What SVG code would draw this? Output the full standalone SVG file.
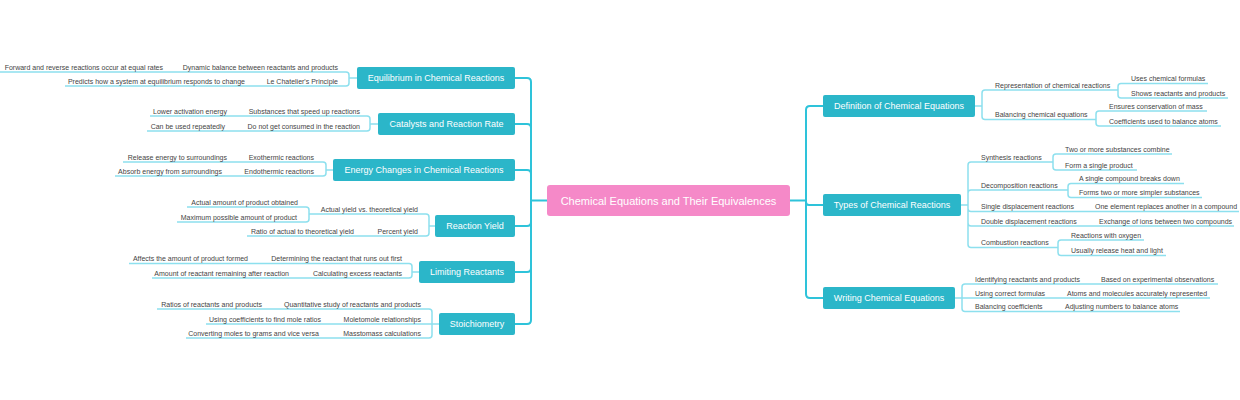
<svg xmlns="http://www.w3.org/2000/svg" width="1240" height="400" viewBox="0 0 1240 400">
<style>
.bg{fill:#ffffff}
.main{fill:none;stroke:#2ec3da;stroke-width:2}
.sub{fill:none;stroke:#8de0ee;stroke-width:1.5}
.box{fill:#2bb6c9}
.root{fill:#f589c8}
.bt{font-family:"Liberation Sans",Arial,sans-serif;font-size:9px;fill:#ffffff;text-anchor:middle}
.rt{font-family:"Liberation Sans",Arial,sans-serif;font-size:11px;fill:#ffffff;text-anchor:middle}
.l{font-family:"Liberation Sans",Arial,sans-serif;font-size:7px;fill:#444444;text-anchor:end}
.r{font-family:"Liberation Sans",Arial,sans-serif;font-size:7px;fill:#444444;text-anchor:start}
</style>
<rect class="bg" x="0" y="0" width="1240" height="400"/>
<g id="connectors">
<path class="main" d="M547,200.5 H531 M531,201 V82 Q531,78 527,78 H515 M531,201 V128 Q531,124 527,124 H515 M531,201 V174 Q531,170 527,170 H515 M531,200 V222 Q531,226 527,226 H515 M531,200 V268 Q531,272 527,272 H515 M531,200 V320 Q531,324 527,324 H515"/>
<path class="main" d="M790,200.5 H806 M806,201 V110 Q806,106 810,106 H823 M806,200 V202 Q806,205 809,205 H823 M806,200 V294 Q806,298 810,298 H823"/>
<path class="sub" d="M357,78 H349 M349,78 V75 Q349,72 346,72 H0 M349,78 V83 Q349,86 346,86 H65"/>
<path class="sub" d="M378,124 H370 M370,124 V119 Q370,116 367,116 H150 M370,124 V128 Q370,131 367,131 H147"/>
<path class="sub" d="M333,170 H326 M326,170 V165 Q326,162 323,162 H123 M326,170 V173 Q326,176 323,176 H115"/>
<path class="sub" d="M435,226 H429 M429,226 V217 Q429,214 426,214 H309 M429,226 V233 Q429,236 426,236 H247 M309,214 V210 Q309,207 306,207 H187 M309,214 V219 Q309,222 306,222 H177"/>
<path class="sub" d="M419,272 H412 M412,272 V266.5 Q412,263.5 409,263.5 H129 M412,272 V275 Q412,278 409,278 H152"/>
<path class="sub" d="M439,324 H432 M432,324 V312 Q432,309 429,309 H157 M432,324 H206 M432,324 V335 Q432,338 429,338 H186"/>
<path class="sub" d="M975,106 H982 M982,106 V93 Q982,90 985,90 H1118 M982,106 V116.5 Q982,119.5 985,119.5 H1096 M1118,90 V86.5 Q1118,83.5 1121,83.5 H1208 M1118,90 V95 Q1118,98 1121,98 H1228 M1096,119.5 V114 Q1096,111 1099,111 H1207 M1096,119.5 V123 Q1096,126 1099,126 H1221"/>
<path class="sub" d="M961,205 H968 M968,205 V165 Q968,162 971,162 H1053 M968,205 V193 Q968,190 971,190 H1068 M968,205 V208.5 Q968,211.5 971,211.5 H1239 M968,205 V223 Q968,226 971,226 H1234 M968,205 V244.5 Q968,247.5 971,247.5 H1058 M1053,162 V157 Q1053,154 1056,154 H1172 M1053,162 V167 Q1053,170 1056,170 H1137 M1068,190 V186.5 Q1068,183.5 1071,183.5 H1184 M1068,190 V194.5 Q1068,197.5 1071,197.5 H1202 M1058,247.5 V243 Q1058,240 1061,240 H1144 M1058,247.5 V252.5 Q1058,255.5 1061,255.5 H1166"/>
<path class="sub" d="M955,298 H962 M962,298 V287 Q962,284 965,284 H1218 M962,298 H1210 M962,298 V308.5 Q962,311.5 965,311.5 H1180"/>
</g>
<g id="root"><rect class="root" x="547" y="185" width="243" height="31" rx="3"/><text class="rt" x="668.5" y="204.5">Chemical Equations and Their Equivalences</text></g>
<g id="equilibrium"><rect class="box" x="357" y="67" width="158" height="22" rx="2"/><text class="bt" x="436" y="81.2">Equilibrium in Chemical Reactions</text></g>
<g id="eq-dynamic"><text class="l" x="338" y="69.5">Dynamic balance between reactants and products</text></g>
<g id="eq-forward"><text class="l" x="163" y="69.5">Forward and reverse reactions occur at equal rates</text></g>
<g id="eq-lechatelier"><text class="l" x="338" y="83.5">Le Chatelier's Principle</text></g>
<g id="eq-predicts"><text class="l" x="245" y="83.5">Predicts how a system at equilibrium responds to change</text></g>
<g id="catalysts"><rect class="box" x="378" y="113" width="137" height="22" rx="2"/><text class="bt" x="446.5" y="127.2">Catalysts and Reaction Rate</text></g>
<g id="cat-speed"><text class="l" x="360" y="113.5">Substances that speed up reactions</text></g>
<g id="cat-lower"><text class="l" x="227" y="113.5">Lower activation energy</text></g>
<g id="cat-consumed"><text class="l" x="360" y="128.5">Do not get consumed in the reaction</text></g>
<g id="cat-repeat"><text class="l" x="225" y="128.5">Can be used repeatedly</text></g>
<g id="energy"><rect class="box" x="333" y="159" width="182" height="22" rx="2"/><text class="bt" x="424" y="173.2">Energy Changes in Chemical Reactions</text></g>
<g id="en-exo"><text class="l" x="314" y="159.5">Exothermic reactions</text></g>
<g id="en-release"><text class="l" x="227" y="159.5">Release energy to surroundings</text></g>
<g id="en-endo"><text class="l" x="314" y="173.5">Endothermic reactions</text></g>
<g id="en-absorb"><text class="l" x="222" y="173.5">Absorb energy from surroundings</text></g>
<g id="yield"><rect class="box" x="435" y="215" width="80" height="22" rx="2"/><text class="bt" x="475" y="229.2">Reaction Yield</text></g>
<g id="y-actualvs"><text class="l" x="418" y="211.5">Actual yield vs. theoretical yield</text></g>
<g id="y-actual"><text class="l" x="298" y="204.5">Actual amount of product obtained</text></g>
<g id="y-max"><text class="l" x="297" y="219.5">Maximum possible amount of product</text></g>
<g id="y-percent"><text class="l" x="418" y="233.5">Percent yield</text></g>
<g id="y-ratio"><text class="l" x="354" y="233.5">Ratio of actual to theoretical yield</text></g>
<g id="limiting"><rect class="box" x="419" y="261" width="96" height="22" rx="2"/><text class="bt" x="467" y="275.2">Limiting Reactants</text></g>
<g id="li-determining"><text class="l" x="402" y="261">Determining the reactant that runs out first</text></g>
<g id="li-affects"><text class="l" x="248" y="261">Affects the amount of product formed</text></g>
<g id="li-excess"><text class="l" x="402" y="275.5">Calculating excess reactants</text></g>
<g id="li-amount"><text class="l" x="289" y="275.5">Amount of reactant remaining after reaction</text></g>
<g id="stoich"><rect class="box" x="439" y="313" width="76" height="22" rx="2"/><text class="bt" x="477" y="327.2">Stoichiometry</text></g>
<g id="st-quant"><text class="l" x="421" y="306.5">Quantitative study of reactants and products</text></g>
<g id="st-ratios"><text class="l" x="262" y="306.5">Ratios of reactants and products</text></g>
<g id="st-mole"><text class="l" x="421" y="321.5">Moletomole relationships</text></g>
<g id="st-coef"><text class="l" x="321" y="321.5">Using coefficients to find mole ratios</text></g>
<g id="st-mass"><text class="l" x="421" y="335.5">Masstomass calculations</text></g>
<g id="st-convert"><text class="l" x="319" y="335.5">Converting moles to grams and vice versa</text></g>
<g id="definition"><rect class="box" x="823" y="95" width="152" height="22" rx="2"/><text class="bt" x="899" y="109.2">Definition of Chemical Equations</text></g>
<g id="de-rep"><text class="r" x="995" y="87.5">Representation of chemical reactions</text></g>
<g id="de-uses"><text class="r" x="1131" y="81">Uses chemical formulas</text></g>
<g id="de-shows"><text class="r" x="1131" y="95.5">Shows reactants and products</text></g>
<g id="de-bal"><text class="r" x="995" y="117">Balancing chemical equations</text></g>
<g id="de-ensures"><text class="r" x="1109" y="108.5">Ensures conservation of mass</text></g>
<g id="de-coef"><text class="r" x="1109" y="123.5">Coefficients used to balance atoms</text></g>
<g id="types"><rect class="box" x="823" y="194" width="138" height="22" rx="2"/><text class="bt" x="892" y="208.2">Types of Chemical Reactions</text></g>
<g id="ty-syn"><text class="r" x="981" y="159.5">Synthesis reactions</text></g>
<g id="ty-two"><text class="r" x="1065" y="151.5">Two or more substances combine</text></g>
<g id="ty-form"><text class="r" x="1065" y="167.5">Form a single product</text></g>
<g id="ty-dec"><text class="r" x="981" y="187.5">Decomposition reactions</text></g>
<g id="ty-single"><text class="r" x="1079" y="181">A single compound breaks down</text></g>
<g id="ty-forms"><text class="r" x="1079" y="195">Forms two or more simpler substances</text></g>
<g id="ty-sd"><text class="r" x="981" y="209">Single displacement reactions</text></g>
<g id="ty-one"><text class="r" x="1095" y="209">One element replaces another in a compound</text></g>
<g id="ty-dd"><text class="r" x="981" y="223.5">Double displacement reactions</text></g>
<g id="ty-exch"><text class="r" x="1099" y="223.5">Exchange of ions between two compounds</text></g>
<g id="ty-comb"><text class="r" x="981" y="245">Combustion reactions</text></g>
<g id="ty-oxy"><text class="r" x="1071" y="237.5">Reactions with oxygen</text></g>
<g id="ty-heat"><text class="r" x="1071" y="253">Usually release heat and light</text></g>
<g id="writing"><rect class="box" x="823" y="287" width="132" height="22" rx="2"/><text class="bt" x="889" y="301.2">Writing Chemical Equations</text></g>
<g id="wr-ident"><text class="r" x="975" y="281.5">Identifying reactants and products</text></g>
<g id="wr-based"><text class="r" x="1101" y="281.5">Based on experimental observations</text></g>
<g id="wr-using"><text class="r" x="975" y="295.5">Using correct formulas</text></g>
<g id="wr-atoms"><text class="r" x="1067" y="295.5">Atoms and molecules accurately represented</text></g>
<g id="wr-bal"><text class="r" x="975" y="309">Balancing coefficients</text></g>
<g id="wr-adj"><text class="r" x="1065" y="309">Adjusting numbers to balance atoms</text></g>
</svg>
